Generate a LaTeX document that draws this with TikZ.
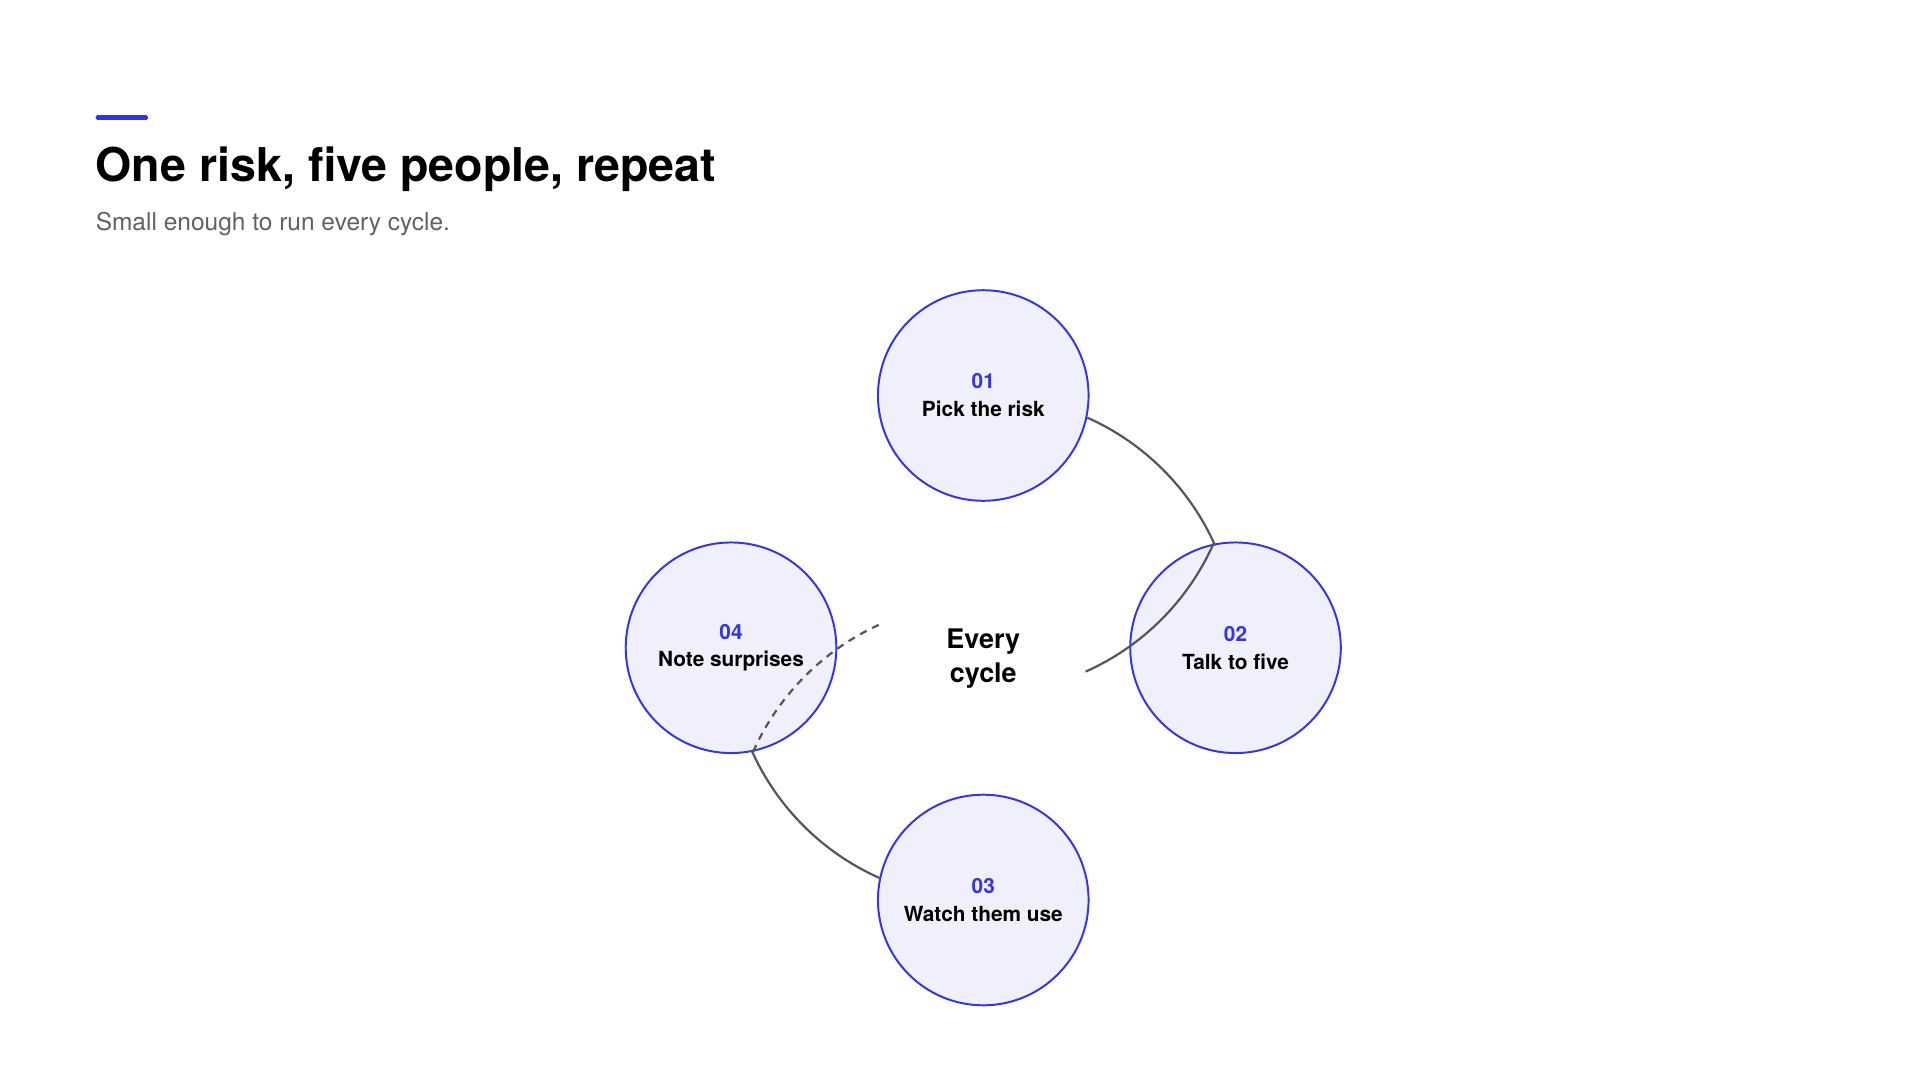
\documentclass[tikz,border=0pt]{standalone}
\usepackage{fontspec}
\setmainfont{TeX Gyre Heros}
\definecolor{accent}{HTML}{3333EE}
\definecolor{stepfill}{HTML}{F0F0FC}
\definecolor{ringgray}{HTML}{55555F}
\definecolor{subgray}{HTML}{5F5F6A}
\tikzset{
  phase/.style={circle, draw=accent, fill=stepfill, line width=1.6pt, minimum size=172pt, inner sep=0pt, align=center},
  ring/.style={draw=ringgray, line width=1.8pt},
}
\newcommand{\phasetext}[2]{{\color{accent}\fontsize{17}{20}\selectfont\bfseries #1}\\[9pt]{\fontsize{17}{20}\selectfont\bfseries #2}}
\begin{document}
\begin{tikzpicture}[x=1pt, y=-1pt]
\useasboundingbox (0,0) rectangle (1568,882);

% heading
\fill[accent, rounded corners=1.5pt] (78,94) rectangle (121,98);
\node[anchor=base west, inner sep=0pt, font=\fontsize{38}{44}\selectfont\bfseries] (title) at (78,148) {One risk, five people, repeat};
\node[anchor=base west, inner sep=0pt, text=subgray, font=\fontsize{20}{24}\selectfont] (subtitle) at (78,188) {Small enough to run every cycle.};

% phases
\node[phase] (s1) at (803,323) {\phasetext{01}{Pick the risk}};
\node[phase] (s2) at (1009,529) {\phasetext{02}{Talk to five}};
\node[phase] (s3) at (803,735) {\phasetext{03}{Watch them use}};
\node[phase] (s4) at (597,529) {\phasetext{04}{Note surprises}};
\node[align=center, font=\fontsize{22}{28}\selectfont\bfseries] (center) at (803,538) {Every\\cycle};

% ring
\draw[ring] (s1.-12) arc[start angle=-66, end angle=-24, radius=206];
\draw[ring] (s2.102) arc[start angle=24, end angle=66, radius=206];
\draw[ring] (s3.168) arc[start angle=114, end angle=156, radius=206];
\draw[ring, dashed, dash pattern=on 6pt off 5pt] (s4.-78) arc[start angle=-156, end angle=-114, radius=206];
\end{tikzpicture}
\end{document}
